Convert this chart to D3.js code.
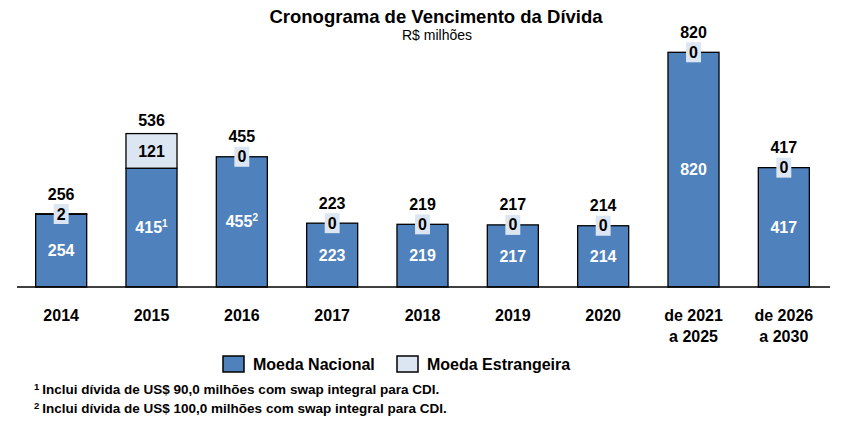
<!DOCTYPE html>
<html><head><meta charset="utf-8">
<script src="https://cdn.jsdelivr.net/npm/d3@7"></script>
<style>
body{margin:0;background:#fff;}
text{font-family:"Liberation Sans",Arial,sans-serif;font-weight:bold;}
</style></head>
<body><svg id="c" width="844" height="429"></svg>
<script>
const categories = [["2014"],["2015"],["2016"],["2017"],["2018"],["2019"],["2020"],["de 2021","a 2025"],["de 2026","a 2030"]];
const nacional = [254,415,455,223,219,217,214,820,417];
const estrangeira = [2,121,0,0,0,0,0,0,0];
const totals = [256,536,455,223,219,217,214,820,417];
const notes = ["","1","2","","","","","",""];
const seriesNames = ["Moeda Nacional","Moeda Estrangeira"];
const footnotes = [["1","Inclui dívida de US$ 90,0 milhões com swap integral para CDI."],["2","Inclui dívida de US$ 100,0 milhões com swap integral para CDI."]];

const colNac = "#4f81bd", colEst = "#dce6f2";
const svg = d3.select("#c");
const idx = d3.range(categories.length);
const x = d3.scaleBand().domain(idx).range([16,829]).paddingInner(0.435).paddingOuter(0.2175);
const y = d3.scaleLinear().domain([0,820]).range([287,52.3]);

svg.append("text").attr("x",436).attr("y",17).attr("dy","0.35em").attr("text-anchor","middle").attr("font-size",18.5).text("Cronograma de Vencimento da Dívida");
const sub = svg.append("text").attr("x",437).attr("y",35).attr("dy","0.35em").attr("text-anchor","middle").attr("font-size",14).style("font-weight","normal").text("R$ milhões");

const g = svg.append("g");
g.selectAll(".n").data(idx).join("rect")
  .attr("x",i=>x(i)).attr("width",x.bandwidth())
  .attr("y",i=>y(nacional[i])).attr("height",i=>y(0)-y(nacional[i]))
  .attr("fill",colNac).attr("stroke","#000").attr("stroke-width",1.3);
g.selectAll(".e").data(idx).join("rect")
  .attr("x",i=>x(i)).attr("width",x.bandwidth())
  .attr("y",i=>y(nacional[i]+estrangeira[i])).attr("height",i=>y(nacional[i])-y(nacional[i]+estrangeira[i]))
  .attr("fill",colEst).attr("stroke","#000").attr("stroke-width",1.3);

svg.append("line").attr("x1",17).attr("x2",830).attr("y1",y(0)).attr("y2",y(0)).attr("stroke","#000").attr("stroke-width",1.5);

const nl = g.selectAll(".nl").data(idx).join("text")
  .attr("x",i=>x(i)+x.bandwidth()/2).attr("y",i=>(y(0)+y(nacional[i]))/2)
  .attr("dy","0.35em").attr("text-anchor","middle").attr("font-size",16).attr("fill","#fff");
nl.append("tspan").text(i=>nacional[i]);
nl.append("tspan").attr("font-size",10).attr("dy","-0.6em").text(i=>notes[i]);

idx.forEach(i=>{
  const cx = x(i)+x.bandwidth()/2;
  const cy = (y(nacional[i])+y(nacional[i]+estrangeira[i]))/2;
  const t = g.append("text").attr("x",cx).attr("y",cy).attr("dy","0.35em").attr("text-anchor","middle").attr("font-size",16).attr("fill","#000").text(estrangeira[i]);
  const w = t.node().getComputedTextLength();
  g.insert("rect","text").attr("x",cx-w/2-3).attr("y",cy-10).attr("width",w+6).attr("height",20).attr("fill",colEst);
  const top = y(totals[i]);
  const ty = Math.min(top-13, cy-10-10);
  g.append("text").attr("x",cx).attr("y",ty).attr("dy","0.35em").attr("text-anchor","middle").attr("font-size",16).attr("fill","#000").text(totals[i]);
});

const cl = svg.selectAll(".cl").data(idx).join("text")
  .attr("text-anchor","middle").attr("font-size",16);
cl.each(function(i){
  const s = d3.select(this);
  categories[i].forEach((line,k)=>{
    s.append("tspan").attr("x",x(i)+x.bandwidth()/2).attr("y",315+k*21).attr("dy","0.35em").text(line);
  });
});

const leg = [[223,253,colNac],[397,427,colEst]];
leg.forEach((l,k)=>{
  svg.append("rect").attr("x",l[0]).attr("y",356).attr("width",21).attr("height",16).attr("fill",l[2]).attr("stroke","#000").attr("stroke-width",1.5);
  svg.append("text").attr("x",l[1]).attr("y",364).attr("dy","0.35em").attr("font-size",16).text(seriesNames[k]);
});

footnotes.forEach((f,k)=>{
  const t = svg.append("text").attr("x",34).attr("y",393+k*19).attr("dy","0.35em").attr("font-size",13.5);
  t.append("tspan").attr("font-size",9.5).attr("dy","-0.3em").text(f[0]);
  t.append("tspan").attr("dx",3).attr("dy","0.3em").text(f[1]);
});
</script></body></html>
